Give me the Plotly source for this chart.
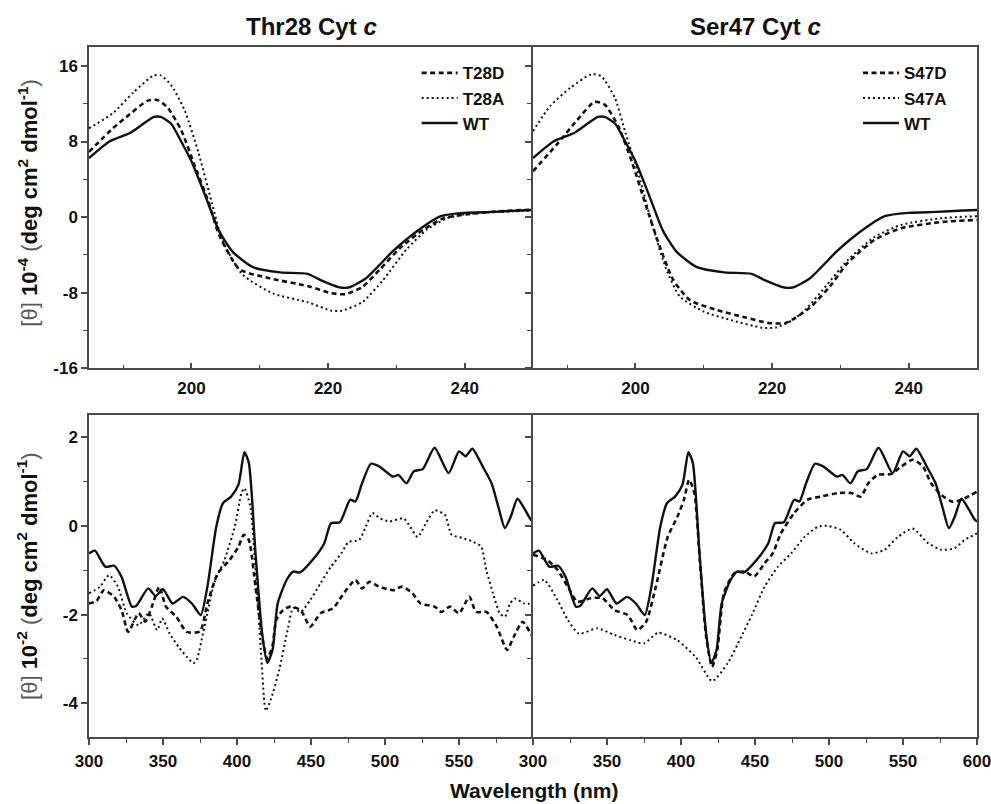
import plotly.graph_objects as go

# ---------------- Far-UV (top) ----------------
wt_far_x = [185, 188, 191, 193, 194.5, 195.5, 197, 198.5, 200, 202, 204, 206, 209, 213, 217, 219,
            221.5, 223, 225.5, 229.5, 233, 236.5, 240, 244, 248, 250]
wt_far_y = [6.25, 8.0, 8.9, 9.9, 10.6, 10.6, 9.9, 8.0, 5.9, 2.3, -1.4, -3.65, -5.3, -5.85, -6.0, -6.7,
            -7.4, -7.45, -6.5, -3.6, -1.5, 0.1, 0.45, 0.55, 0.7, 0.75]

t28d_far_x = [185, 188.5, 191, 193.5, 195, 196.5, 198.5, 200.5, 202.5, 204, 207, 211, 217, 220.5, 222.5,
              225, 227.5, 230.5, 234, 237, 241.5, 246, 250]
t28d_far_y = [6.9, 9.4, 10.9, 12.3, 12.4, 11.6, 9.2, 5.4, 1.6, -1.8, -5.5, -6.4, -7.3, -8.05, -8.15,
              -7.4, -5.6, -3.3, -1.3, -0.1, 0.4, 0.65, 0.8]

t28a_far_x = [185, 188.5, 191.5, 194.5, 195.5, 197, 199, 201, 203, 204.5, 207.5, 212, 217, 220.5, 222,
              225, 228, 231.5, 234.5, 237.5, 240, 245, 250]
t28a_far_y = [9.4, 11.0, 13.2, 15.0, 15.0, 14.0, 11.3, 6.9, 1.5, -2.4, -6.1, -8.1, -9.0, -9.9, -9.9,
              -9.0, -6.7, -3.4, -1.3, -0.1, 0.3, 0.55, 0.7]

s47d_far_x = [185, 188.5, 191.5, 194, 195.5, 197.5, 199.5, 201.5, 203.5, 205.5, 208, 212, 216, 219.5,
              222, 225.5, 228.5, 231, 235, 239, 245, 250]
s47d_far_y = [4.85, 7.7, 10.3, 12.2, 11.9, 9.6, 5.8, 1.3, -3.0, -6.6, -8.8, -9.85, -10.6, -11.2,
              -11.2, -9.6, -7.3, -4.9, -2.4, -1.15, -0.5, -0.3]

s47a_far_x = [185, 187.5, 190.5, 193.5, 195, 197, 198.5, 200.5, 202.5, 204.5, 206.5, 210, 214, 218.5,
              220.5, 223, 225, 228, 231, 235, 239, 245, 250]
s47a_far_y = [9.1, 11.75, 13.7, 15.1, 14.9, 12.6, 9.0, 4.4, -0.9, -5.5, -8.4, -10.0, -10.9, -11.7,
              -11.7, -10.9, -9.7, -7.2, -4.6, -2.1, -0.8, -0.1, 0.1]

# ---------------- Soret / visible (bottom) ----------------
wt_vis_x = [300, 304, 311, 317, 322, 329, 332, 340, 345, 350, 356.5, 363.5, 369.5, 375.5, 380, 386,
            390.5, 396, 401, 405, 408, 412.5, 417, 420.5, 424, 427.5, 433.5, 438, 442.5, 452, 459,
            463.5, 469.5, 476.5, 480, 484.5, 490.5, 496, 505.5, 509, 514.5, 519.5, 525.5, 533.5,
            543, 550, 554.5, 559, 566, 572, 576.5, 581, 585, 589.5, 594, 598.5, 600]
wt_vis_y = [-0.62, -0.56, -0.92, -0.9, -1.15, -1.82, -1.8, -1.41, -1.58, -1.43, -1.75, -1.6, -1.75,
            -2.01, -1.37, -0.02, 0.51, 0.66, 0.93, 1.66, 1.42, -0.62, -2.43, -3.09, -2.8, -1.75,
            -1.22, -1.03, -1.05, -0.73, -0.39, 0.06, 0.08, 0.59, 0.55, 0.96, 1.4, 1.34, 1.11, 1.15,
            0.96, 1.23, 1.28, 1.76, 1.19, 1.68, 1.57, 1.74, 1.34, 0.96, 0.44, -0.05, 0.21, 0.61,
            0.4, 0.14, 0.1]

t28d_vis_x = [300, 305, 310, 317, 322, 326.5, 333.5, 338, 342.5, 347.5, 352, 359, 366, 375, 380, 387,
              395, 401, 404.5, 408, 412.5, 417, 420.5, 424, 426.5, 431, 436, 443, 449.5, 456.5, 465,
              470.5, 480, 484.5, 489.5, 496, 505.5, 511.5, 518.5, 524, 533.5, 538, 544, 550, 557,
              561.5, 568.5, 575.5, 582.5, 587, 593, 598.5, 600]
t28d_vis_y = [-1.75, -1.7, -1.45, -1.6, -1.9, -2.39, -1.97, -2.16, -1.82, -1.37, -1.82, -2.05, -2.39,
              -2.38, -1.75, -1.07, -0.77, -0.47, -0.2, -0.32, -1.37, -2.5, -3.0, -2.7, -2.12, -1.9,
              -1.82, -1.9, -2.27, -1.97, -1.86, -1.6, -1.22, -1.41, -1.26, -1.37, -1.45, -1.37,
              -1.52, -1.75, -1.82, -1.94, -1.82, -1.97, -1.6, -1.94, -1.94, -2.27, -2.8, -2.5,
              -2.16, -2.43, -2.5]

t28a_vis_x = [300, 307.5, 313.5, 319.5, 325.5, 333.5, 340.5, 346, 349.5, 354.5, 361, 366, 370.5, 373,
              377, 380, 384.5, 391.5, 398.5, 403, 405, 409, 413, 416.5, 419.5, 423, 428.5, 434.5,
              438, 443, 449.5, 456.5, 463.5, 470.5, 475.5, 482.5, 487, 491.5, 496.5, 503, 512.5,
              517, 522, 529, 533.5, 540.5, 545, 552, 559, 565, 568.5, 573, 577.5, 581, 584.5, 588,
              594, 600]
t28a_vis_y = [-1.52, -1.37, -1.11, -1.37, -1.97, -2.24, -1.97, -2.35, -2.09, -2.43, -2.75, -2.95,
              -3.1, -3.0, -2.43, -1.97, -1.3, -0.77, -0.02, 0.74, 0.85, 0.44, -1.2, -3.0, -4.17,
              -3.9, -3.25, -2.3, -1.85, -1.94, -1.67, -1.29, -0.92, -0.62, -0.36, -0.32, -0.02,
              0.29, 0.17, 0.1, 0.17, -0.02, -0.25, 0.14, 0.35, 0.25, -0.2, -0.27, -0.35, -0.47,
              -1.0, -1.52, -1.97, -2.05, -1.75, -1.64, -1.75, -1.75]

s47d_vis_x = [300, 309.5, 316.5, 323.5, 330, 339, 347, 355, 364, 370.5, 376.5, 383, 391, 397.5, 402,
              405.5, 409, 413, 417, 421, 424.5, 429, 436, 443, 449.5, 456.5, 462, 467.5, 476.5,
              485.5, 494.5, 506, 515, 521.5, 526.5, 533, 542, 549, 556.5, 563.5, 569, 576, 584,
              591.5, 600]
s47d_vis_y = [-0.65, -0.77, -0.99, -1.37, -1.71, -1.63, -1.63, -1.9, -2.01, -2.35, -2.16, -1.37,
              -0.25, 0.2, 0.59, 1.04, 0.74, -0.9, -2.5, -3.18, -2.8, -1.52, -1.07, -1.03, -1.14,
              -0.84, -0.62, -0.17, 0.29, 0.59, 0.66, 0.74, 0.74, 0.66, 0.96, 1.15, 1.17, 1.34,
              1.49, 1.34, 0.96, 0.69, 0.54, 0.62, 0.77]

s47a_vis_x = [300, 307.5, 316.5, 323.5, 331, 343.5, 355, 366, 375, 384.5, 397.5, 410, 421, 431.5,
              440, 448, 456.5, 465.5, 474.5, 483.5, 492.5, 499, 508, 517, 528.5, 537.5, 546.5,
              556.5, 567, 576, 585, 591.5, 600]
s47a_vis_y = [-1.35, -1.22, -1.67, -2.12, -2.43, -2.31, -2.46, -2.58, -2.65, -2.41, -2.58, -2.96,
              -3.5, -3.1, -2.55, -2.0, -1.37, -0.92, -0.62, -0.25, -0.02, 0.0, -0.09, -0.39,
              -0.62, -0.54, -0.25, -0.06, -0.39, -0.54, -0.5, -0.32, -0.17]

FONT = "Liberation Sans, Arial, Helvetica, sans-serif"
INK = "#111111"
AX = "#4a4a4a"

styles = {
    "dash": dict(color=INK, width=2.6, dash="5px,3.5px"),
    "dot": dict(color=INK, width=2.0, dash="2px,3px"),
    "solid": dict(color=INK, width=2.4),
}

fig = go.Figure()

def add(xs, ys, name, style, xa, ya, legend, show):
    fig.add_trace(go.Scatter(
        x=xs, y=ys, name=name, mode="lines",
        line=dict(shape="spline", smoothing=0.6, **styles[style]),
        xaxis=xa, yaxis=ya, legend=legend, showlegend=show))

# top-left
add(t28d_far_x, t28d_far_y, "T28D", "dash", "x", "y", "legend", True)
add(t28a_far_x, t28a_far_y, "T28A", "dot", "x", "y", "legend", True)
add(wt_far_x, wt_far_y, "WT", "solid", "x", "y", "legend", True)
# top-right
add(s47d_far_x, s47d_far_y, "S47D", "dash", "x2", "y2", "legend2", True)
add(s47a_far_x, s47a_far_y, "S47A", "dot", "x2", "y2", "legend2", True)
add(wt_far_x, wt_far_y, "WT", "solid", "x2", "y2", "legend2", True)
# bottom-left
add(t28d_vis_x, t28d_vis_y, "T28D", "dash", "x3", "y3", "legend", False)
add(t28a_vis_x, t28a_vis_y, "T28A", "dot", "x3", "y3", "legend", False)
add(wt_vis_x, wt_vis_y, "WT", "solid", "x3", "y3", "legend", False)
# bottom-right
add(s47d_vis_x, s47d_vis_y, "S47D", "dash", "x4", "y4", "legend2", False)
add(s47a_vis_x, s47a_vis_y, "S47A", "dot", "x4", "y4", "legend2", False)
add(wt_vis_x, wt_vis_y, "WT", "solid", "x4", "y4", "legend2", False)

tickfont = dict(family=FONT, size=17, color=INK, weight="bold")
common = dict(showline=True, linecolor=AX, linewidth=1.5, showgrid=False,
              zeroline=False, tickcolor=AX, tickwidth=1.5, ticklen=6, tickfont=tickfont,
              ticklabeloverflow="allow", automargin=False)

far_x_ticks = [200, 220, 240]
far_x_minor = [190, 210, 230, 250]
far_y_ticks = [-16, -8, 0, 8, 16]
far_y_minor = [-12, -4, 4, 12]
vis_x_ticks_left = [300, 350, 400, 450, 500, 550]
vis_x_ticks_right = [300, 350, 400, 450, 500, 550, 600]
vis_x_minor = [325, 375, 425, 475, 525, 575]
vis_y_ticks = [-4, -2, 0, 2]
vis_y_minor = [-3, -1, 1]

top_dom = [0.5343, 1.0]
bot_dom = [0.0, 0.4667]

def lab(vals):
    return [str(v) for v in vals]

def xax(dom, anchor, rng, ticks, minor, inside):
    return dict(common, domain=dom, anchor=anchor, range=rng, tickmode="array",
                tickvals=ticks, ticktext=lab(ticks), mirror=True,
                ticks="inside" if inside else "outside",
                ticklabelstandoff=4 if inside else 2,
                minor=dict(tickmode="array", tickvals=minor, ticks="inside" if inside else "outside",
                           ticklen=4, tickcolor=AX, tickwidth=1.2))

def yax(dom, anchor, rng, ticks, minor, labels, mirror):
    return dict(common, domain=dom, anchor=anchor, range=rng, tickmode="array",
                tickvals=ticks, ticktext=lab(ticks), ticks="outside", showticklabels=labels,
                mirror=mirror,
                minor=dict(tickmode="array", tickvals=minor, ticks="outside",
                           ticklen=4, tickcolor=AX, tickwidth=1.2))

legfont = dict(family=FONT, size=17, color=INK, weight="bold")

fig.update_layout(
    width=991, height=804,
    margin=dict(l=89, r=14, t=47, b=67, autoexpand=False),
    paper_bgcolor="white", plot_bgcolor="white",
    font=dict(family=FONT, color=INK),
    xaxis=xax([0, 0.5], "y", [185, 250], far_x_ticks, far_x_minor, True),
    xaxis2=xax([0.5, 1], "y2", [185, 250], far_x_ticks, far_x_minor, True),
    xaxis3=xax([0, 0.5], "y3", [300, 600], vis_x_ticks_left, vis_x_minor, False),
    xaxis4=xax([0.5, 1], "y4", [300, 600], vis_x_ticks_right, vis_x_minor, False),
    yaxis=yax(top_dom, "x", [-16, 18], far_y_ticks, far_y_minor, True, False),
    yaxis2=yax(top_dom, "x2", [-16, 18], far_y_ticks, far_y_minor, False, True),
    yaxis3=yax(bot_dom, "x3", [-4.76, 2.5], vis_y_ticks, vis_y_minor, True, False),
    yaxis4=yax(bot_dom, "x4", [-4.76, 2.5], vis_y_ticks, vis_y_minor, False, True),
    legend=dict(x=0.369, y=0.988, xanchor="left", yanchor="top", bgcolor="rgba(0,0,0,0)",
                font=legfont, itemwidth=36, tracegroupgap=0, traceorder="normal"),
    legend2=dict(x=0.866, y=0.988, xanchor="left", yanchor="top", bgcolor="rgba(0,0,0,0)",
                 font=legfont, itemwidth=36, tracegroupgap=0, traceorder="normal"),
)

def ytitle(exp):
    g = "<span style='color:#5a5a5a;font-weight:normal'>"
    return (g + "[θ]</span> <b>10<sup>" + exp + "</sup></b> " + g + "(</span>"
            "<b>deg cm<sup>2</sup> dmol<sup>-1</sup></b>" + g + ")</span>")

ann = [
    dict(text="<b>Thr28 Cyt <i>c</i></b>", x=0.25, y=1.030, font=dict(size=24)),
    dict(text="<b>Ser47 Cyt <i>c</i></b>", x=0.75, y=1.030, font=dict(size=24)),
    dict(text="<b>Wavelength (nm)</b>", x=0.5014, y=-0.077, font=dict(size=21)),
    dict(text=ytitle("-4"), x=-0.069, y=0.774, textangle=-90, font=dict(size=22)),
    dict(text=ytitle("-2"), x=-0.069, y=0.233, textangle=-90, font=dict(size=22)),
]
for a in ann:
    fig.add_annotation(xref="paper", yref="paper", showarrow=False, xanchor="center",
                       yanchor="middle", **a)

fig.write_html("out.html")
